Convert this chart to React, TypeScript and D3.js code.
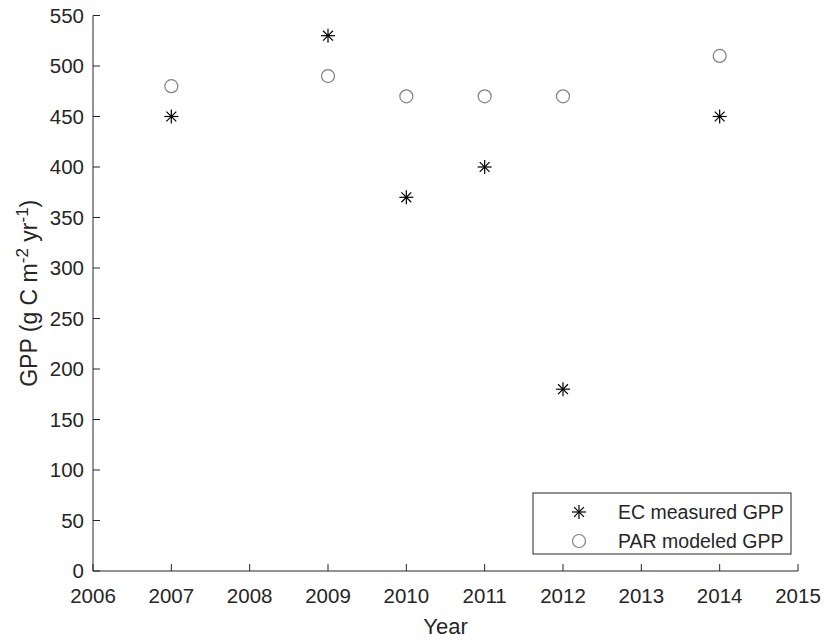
import React from "react";
import * as d3 from "d3";

const years = [2007, 2009, 2010, 2011, 2012, 2014];
const ecMeasured = [450, 530, 370, 400, 180, 450];
const parModeled = [480, 490, 470, 470, 470, 510];
const xTicks = [2006, 2007, 2008, 2009, 2010, 2011, 2012, 2013, 2014, 2015];
const yTicks = [0, 50, 100, 150, 200, 250, 300, 350, 400, 450, 500, 550];
const legendLabels = ["EC measured GPP", "PAR modeled GPP"];

const W = 824;
const H = 643;
const left = 93, right = 798, top = 15.5, bottom = 571;
const axisColor = "#262626";
const font = "Arial, 'Liberation Sans', sans-serif";

function Asterisk({ x, y, s = 7 }: { x: number; y: number; s?: number }) {
  const d = s * Math.cos(Math.PI / 4);
  return (
    <g stroke="#000" strokeWidth={1.2}>
      <line x1={x - s} y1={y} x2={x + s} y2={y} />
      <line x1={x} y1={y - s} x2={x} y2={y + s} />
      <line x1={x - d} y1={y - d} x2={x + d} y2={y + d} />
      <line x1={x - d} y1={y + d} x2={x + d} y2={y - d} />
    </g>
  );
}

function Circle({ x, y, r = 6.5 }: { x: number; y: number; r?: number }) {
  return <circle cx={x} cy={y} r={r} fill="none" stroke="#808080" strokeWidth={1.2} />;
}

export default function App() {
  const xs = d3.scaleLinear().domain([2006, 2015]).range([left, right]);
  const ys = d3.scaleLinear().domain([0, 550]).range([bottom, top]);
  const tick = 7;
  const lgX = 533, lgY = 493, lgW = 258, lgH = 61;
  return (
    <svg width={W} height={H} style={{ position: "absolute", left: 0, top: 0, background: "#fff" }} fontFamily={font}>
      <rect x={0} y={0} width={W} height={H} fill="#fff" />
      {/* axes */}
      <line x1={left} y1={top} x2={left} y2={bottom} stroke={axisColor} strokeWidth={1} />
      <line x1={left} y1={bottom} x2={right} y2={bottom} stroke={axisColor} strokeWidth={1} />
      {yTicks.map((t) => (
        <g key={"y" + t}>
          <line x1={left} x2={left + tick} y1={ys(t)} y2={ys(t)} stroke={axisColor} />
          <text x={left - 9} y={ys(t)} dy="0.35em" textAnchor="end" fontSize={20.5} fill={axisColor}>
            {t}
          </text>
        </g>
      ))}
      {xTicks.map((t) => (
        <g key={"x" + t}>
          <line x1={xs(t)} x2={xs(t)} y1={bottom} y2={bottom - tick} stroke={axisColor} />
          <text x={xs(t)} y={bottom + 24.5} dy="0.35em" textAnchor="middle" fontSize={20.5} fill={axisColor}>
            {t}
          </text>
        </g>
      ))}
      <text x={(left + right) / 2} y={626} dy="0.35em" textAnchor="middle" fontSize={22} fill={axisColor}>
        Year
      </text>
      <text
        transform={`translate(37, ${(top + bottom) / 2}) rotate(-90)`}
        textAnchor="middle"
        fontSize={23}
        fill={axisColor}
      >
        GPP (g C m<tspan dy="-9" fontSize={17}>-2</tspan>
        <tspan dy="9"> yr</tspan>
        <tspan dy="-9" fontSize={17}>-1</tspan>
        <tspan dy="9">)</tspan>
      </text>
      {/* data */}
      {years.map((yr, i) => (
        <Circle key={"c" + yr} x={xs(yr)} y={ys(parModeled[i])} />
      ))}
      {years.map((yr, i) => (
        <Asterisk key={"a" + yr} x={xs(yr)} y={ys(ecMeasured[i])} />
      ))}
      {/* legend */}
      <rect x={lgX} y={lgY} width={lgW} height={lgH} fill="#fff" stroke={axisColor} strokeWidth={1} />
      <Asterisk x={579} y={512} />
      <Circle x={579} y={541} />
      {legendLabels.map((l, i) => (
        <text key={l} x={618} y={512 + i * 29} dy="0.35em" fontSize={19.5} fill={axisColor}>
          {l}
        </text>
      ))}
    </svg>
  );
}
